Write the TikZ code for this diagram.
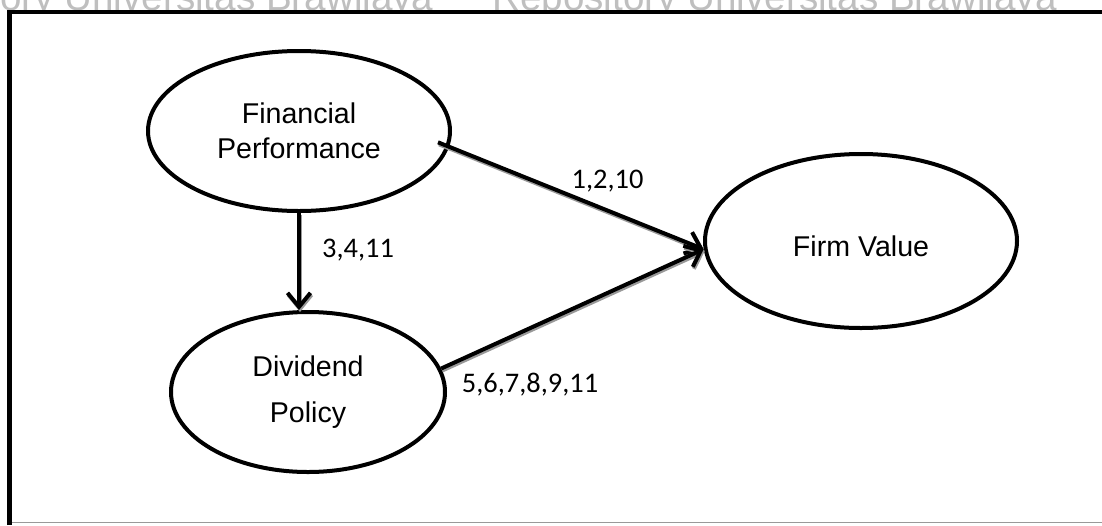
\documentclass[tikz,border=0pt]{standalone}
\usepackage{fontspec}
\setmainfont{Liberation Sans}
\newfontfamily\numfont{Carlito}
\usetikzlibrary{shapes.geometric,arrows.meta}

\begin{document}
\begin{tikzpicture}[x=0.5pt,y=-0.5pt,
  construct/.style={ellipse, draw, line width=2pt, inner sep=0pt, align=center,
    font=\fontsize{14.3}{16}\selectfont},
  link/.style={line width=2pt, -{Straight Barb[length=7pt,width=11.5pt]}},
  linkshadow/.style={link, draw=black!40, transform canvas={shift={(1,2)}}},
  pathlabel/.style={font=\numfont\fontsize{14.2}{16}\selectfont, anchor=base, inner sep=0pt},
  watermark/.style={font=\fontsize{19.3}{22}\selectfont, text=black!25, anchor=base west, inner sep=0pt}]

% page and frame
\useasboundingbox (0,0) rectangle (1102,525);
\fill[white] (0,0) rectangle (1102,525);
\node[watermark] (wm1) at (-131,10) {Repository Universitas Brawijaya};
\node[watermark] (wm2) at (492,10) {Repository Universitas Brawijaya};
\fill[white] (10,14) rectangle (1102,521);
\draw[line width=2.4pt] (9.5,525) -- (9.5,12) -- (1102,12);
\draw[black!40, line width=0.8pt] (12,522.5) -- (1102,522.5);

% constructs
\node[construct, minimum width=151pt, minimum height=80pt] (fp) at (299,131)
  {Financial\\[1.7pt]Performance};
\node[construct, minimum width=137pt, minimum height=80pt,
  font=\fontsize{14.3}{18.8}\selectfont] (dp) at (308,392)
  {Dividend\\[4.5pt]Policy};
\node[construct, minimum width=156pt, minimum height=87pt,
  text height=15pt, text depth=0pt] (fv) at (861,241) {Firm Value};

% hypothesis paths (shadow first, then the path itself)
\draw[linkshadow, shorten <=-6pt] (fp.-6) -- (fv.183);
\draw[link, shorten <=-6pt] (fp.-6) -- (fv.183);
\draw[linkshadow] (fp.south) -- (fp.south |- dp.north);
\draw[link] (fp.south) -- (fp.south |- dp.north);
\draw[linkshadow] (dp.10) -- (fv.183);
\draw[link] (dp.10) -- (fv.183);

% path labels
\node[pathlabel] (l1) at (607.5,188) {1,2,10};
\node[pathlabel] (l2) at (358,257) {3,4,11};
\node[pathlabel] (l3) at (530,392) {5,6,7,8,9,11};
\end{tikzpicture}
\end{document}
